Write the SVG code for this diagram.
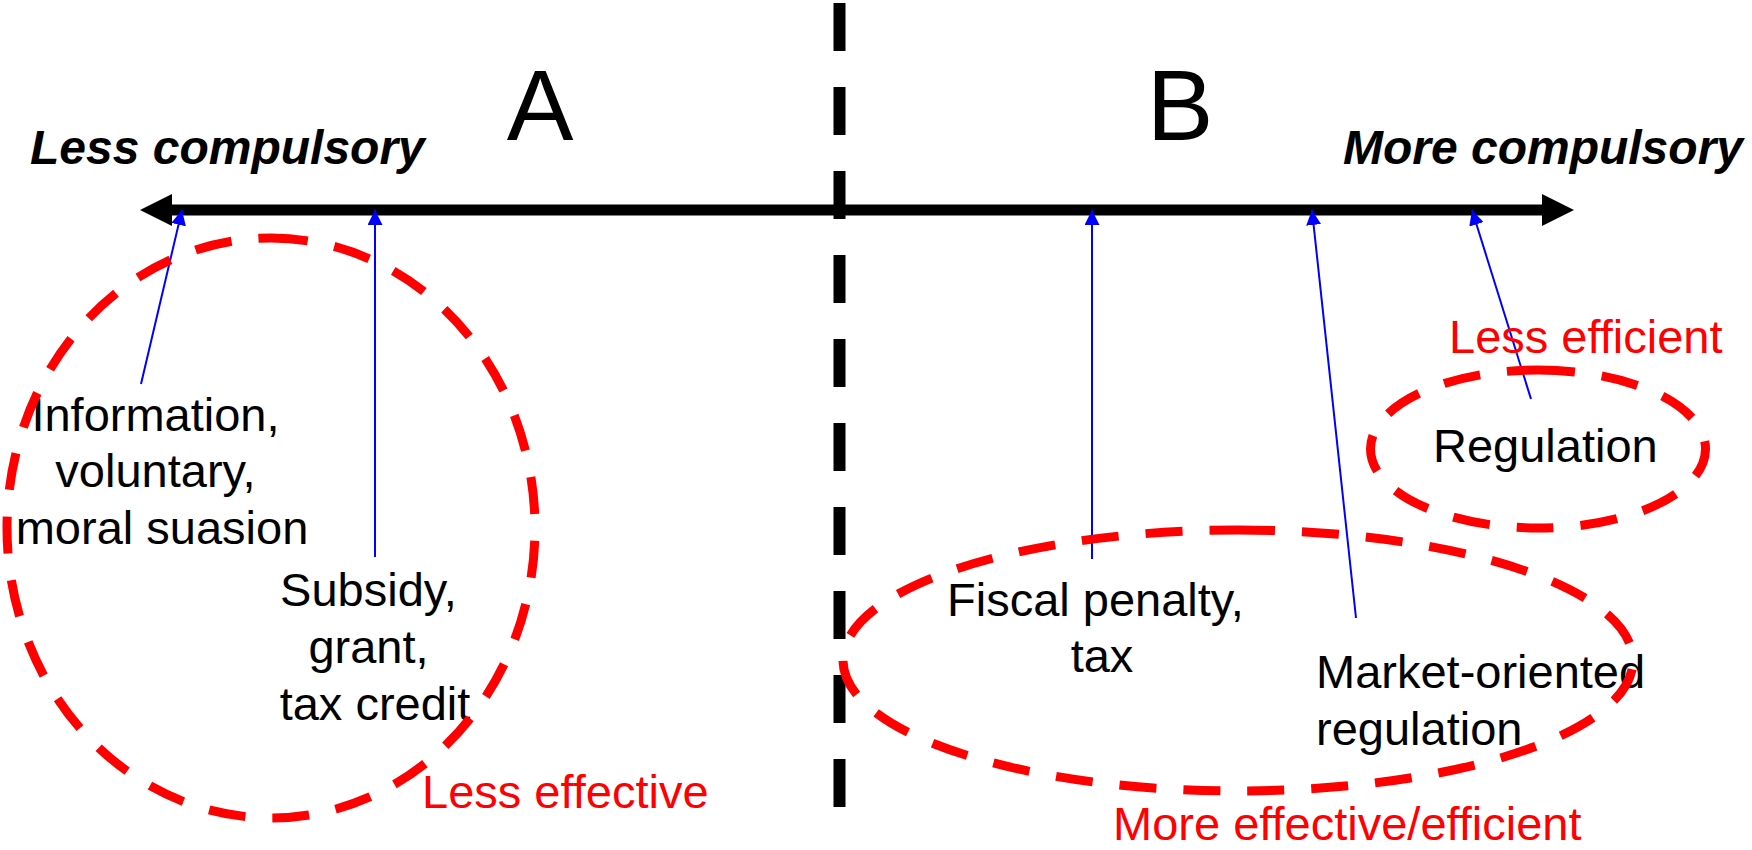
<svg xmlns="http://www.w3.org/2000/svg" width="1752" height="850" viewBox="0 0 1752 850">
<style>
  text { font-family: "Liberation Sans", Arial, sans-serif; }
  .lbl { font-size: 47px; fill: #000; }
  .red { font-size: 47px; fill: #FF0000; }
  .big { font-size: 100px; fill: #000; }
  .axis-lbl { font-size: 48px; font-weight: bold; font-style: italic; fill: #000; }
  .oval { fill: none; stroke: #FF0000; stroke-width: 9; stroke-dasharray: 37 27; }
  .conn { stroke: #0000FF; stroke-width: 2; fill: none; marker-end: url(#blueArrow); }
</style>
<defs>
  <marker id="blackArrow" markerUnits="userSpaceOnUse" markerWidth="32" markerHeight="32" viewBox="0 0 32 32" refX="0" refY="16" orient="auto-start-reverse">
    <path d="M0,0 L32,16 L0,32 Z" fill="#000"/>
  </marker>
  <marker id="blueArrow" markerUnits="userSpaceOnUse" markerWidth="15" markerHeight="15" viewBox="0 0 15 15" refX="15" refY="7.5" orient="auto">
    <path d="M0,0 L15,7.5 L0,15 Z" fill="#0000FF"/>
  </marker>
</defs>
<rect width="1752" height="850" fill="#FFFFFF"/>

<g id="axis">
  <line x1="172" y1="210" x2="1542" y2="210" stroke="#000" stroke-width="11" marker-start="url(#blackArrow)" marker-end="url(#blackArrow)"/>
</g>
<g id="divider">
  <line x1="839.5" y1="3" x2="839.5" y2="807" stroke="#000" stroke-width="12" stroke-dasharray="48 36"/>
</g>

<g id="label-A"><text class="big" x="540" y="140" text-anchor="middle">A</text></g>
<g id="label-B"><text class="big" x="1180" y="140" text-anchor="middle">B</text></g>
<g id="less-compulsory"><text class="axis-lbl" x="30" y="164">Less compulsory</text></g>
<g id="more-compulsory"><text class="axis-lbl" x="1743" y="164" text-anchor="end">More compulsory</text></g>

<g id="node-information">
  <text class="lbl" text-anchor="middle" x="162">
    <tspan x="162" y="431">Information,</tspan>
    <tspan x="162" y="487">voluntary,</tspan>
    <tspan x="162" y="544">moral suasion</tspan>
  </text>
</g>
<g id="node-subsidy">
  <text class="lbl" text-anchor="middle" x="375">
    <tspan x="375" y="606">Subsidy,</tspan>
    <tspan x="375" y="663">grant,</tspan>
    <tspan x="375" y="720">tax credit</tspan>
  </text>
</g>
<g id="node-fiscal">
  <text class="lbl" text-anchor="middle" x="1102">
    <tspan x="1102" y="616">Fiscal penalty,</tspan>
    <tspan x="1102" y="672">tax</tspan>
  </text>
</g>
<g id="node-market">
  <text class="lbl" x="1316">
    <tspan x="1316" y="688">Market-oriented</tspan>
    <tspan x="1316" y="745">regulation</tspan>
  </text>
</g>
<g id="node-regulation">
  <text class="lbl" x="1433" y="462">Regulation</text>
</g>

<g id="connectors">
  <line class="conn" x1="141" y1="384" x2="182" y2="210"/>
  <line class="conn" x1="375" y1="557" x2="375" y2="210"/>
  <line class="conn" x1="1092" y1="559" x2="1092" y2="210"/>
  <line class="conn" x1="1356" y1="618" x2="1312" y2="210"/>
  <line class="conn" x1="1531" y1="399" x2="1472" y2="210"/>
</g>

<g id="group-less-effective">
  <path class="oval" d="M271,238 A264,290 0 0 1 271,818 A264,290 0 0 1 271,238"/>
  <text class="red" x="422" y="808">Less effective</text>
</g>
<g id="group-less-efficient">
  <path class="oval" d="M1538,370 A167.5,79 0 0 1 1538,528 A167.5,79 0 0 1 1538,370"/>
  <text class="red" x="1449" y="353">Less efficient</text>
</g>
<g id="group-more-effective">
  <path class="oval" d="M1238,530 A395,130.5 0 0 1 1238,791 A395,130.5 0 0 1 1238,530"/>
  <text class="red" x="1113" y="840">More effective/efficient</text>
</g>
</svg>
